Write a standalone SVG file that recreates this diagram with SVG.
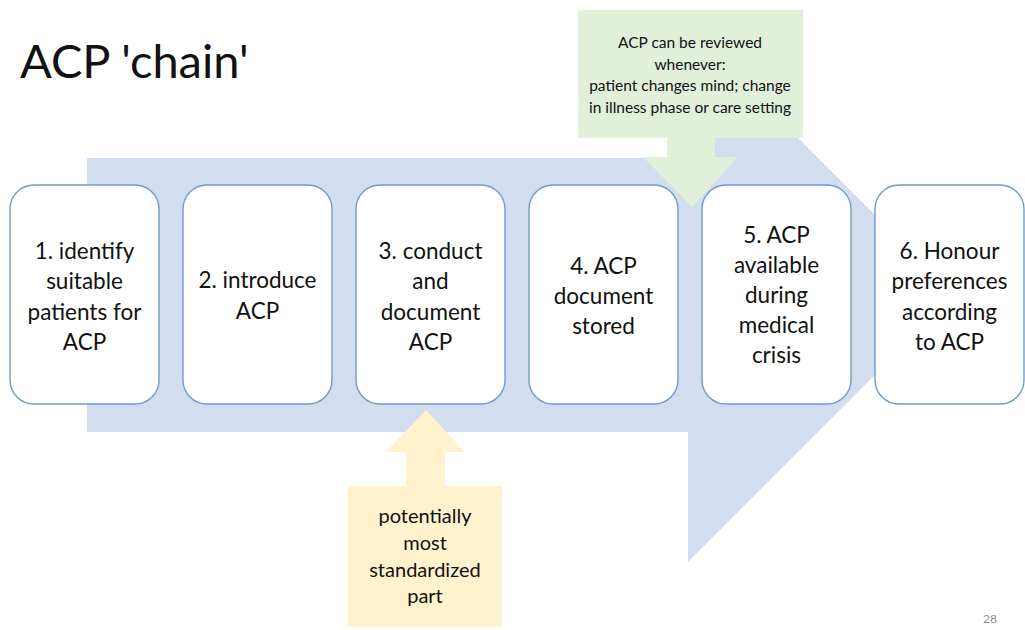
<svg xmlns="http://www.w3.org/2000/svg" width="1025" height="630" viewBox="0 0 1025 630">
<style>
  text { font-family: Lato, "Open Sans", "Liberation Sans", sans-serif; fill: #111111; text-anchor: middle; }
  .box { fill: #ffffff; stroke: #6F9BCB; stroke-width: 1.4; }
  .lbl { font-size: 22.5px; }
  .title { font-size: 47px; text-anchor: start; }
  .note { font-size: 15.5px; }
  .ynote { font-size: 20px; }
  .pg { font-size: 12px; fill: #8c8c8c; }
</style>
<rect width="1025" height="630" fill="#ffffff"/>
<text class="title" x="20" y="78">ACP 'chain'</text>

<g id="connectors">
  <path id="chain-arrow" d="M87,158 H688 V28 L955,295 L688,562 V432 H87 Z" fill="#D2DDEF"/>
</g>

<g id="review-note">
  <path d="M578,10 H803 V138 H715 V157 H738 L692,207 L643,157 H667 V138 H578 Z" fill="#E2EFD9"/>
  <text class="note" x="690" y="48">ACP can be reviewed</text>
  <text class="note" x="690" y="69.5">whenever:</text>
  <text class="note" x="690" y="91">patient changes mind; change</text>
  <text class="note" x="690" y="112.5">in illness phase or care setting</text>
</g>

<g id="standard-note">
  <path d="M348,486 H502 V627 H348 Z M406,486 V452 H386 L426,410 L465,452 H445 V486 Z" fill="#FFF2CC"/>
  <text class="ynote" x="425" y="523">potentially</text>
  <text class="ynote" x="425" y="550">most</text>
  <text class="ynote" x="425" y="577">standardized</text>
  <text class="ynote" x="425" y="603">part</text>
</g>

<g id="step1">
  <rect class="box" x="10" y="185" width="149" height="219" rx="24"/>
  <text class="lbl" x="84.5" y="259">1. identify</text>
  <text class="lbl" x="84.5" y="289">suitable</text>
  <text class="lbl" x="84.5" y="320">patients for</text>
  <text class="lbl" x="84.5" y="350">ACP</text>
</g>
<g id="step2">
  <rect class="box" x="183" y="185" width="149" height="219" rx="24"/>
  <text class="lbl" x="257.5" y="288">2. introduce</text>
  <text class="lbl" x="257.5" y="319">ACP</text>
</g>
<g id="step3">
  <rect class="box" x="356" y="185" width="149" height="219" rx="24"/>
  <text class="lbl" x="430.5" y="259">3. conduct</text>
  <text class="lbl" x="430.5" y="289">and</text>
  <text class="lbl" x="430.5" y="320">document</text>
  <text class="lbl" x="430.5" y="350">ACP</text>
</g>
<g id="step4">
  <rect class="box" x="529" y="185" width="149" height="219" rx="24"/>
  <text class="lbl" x="603.5" y="274">4. ACP</text>
  <text class="lbl" x="603.5" y="304">document</text>
  <text class="lbl" x="603.5" y="334">stored</text>
</g>
<g id="step5">
  <rect class="box" x="702" y="185" width="149" height="219" rx="24"/>
  <text class="lbl" x="776.5" y="243">5. ACP</text>
  <text class="lbl" x="776.5" y="273">available</text>
  <text class="lbl" x="776.5" y="303">during</text>
  <text class="lbl" x="776.5" y="333">medical</text>
  <text class="lbl" x="776.5" y="363">crisis</text>
</g>
<g id="step6">
  <rect class="box" x="875" y="185" width="149" height="219" rx="24"/>
  <text class="lbl" x="949.5" y="259">6. Honour</text>
  <text class="lbl" x="949.5" y="289">preferences</text>
  <text class="lbl" x="949.5" y="320">according</text>
  <text class="lbl" x="949.5" y="350">to ACP</text>
</g>

<text class="pg" x="990" y="623">28</text>
</svg>
